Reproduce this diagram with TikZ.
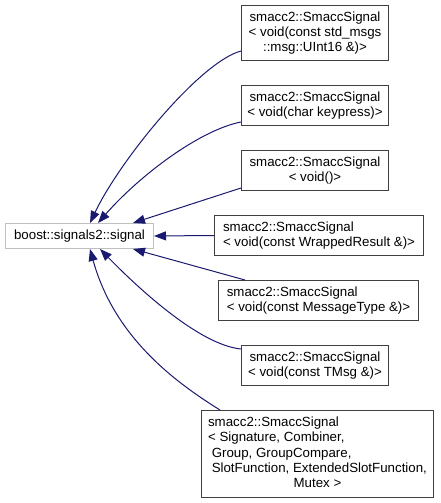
\documentclass[tikz,border=0pt]{standalone}
\usepackage{fontspec}
\setmainfont{Liberation Sans}
\usetikzlibrary{arrows.meta,calc}
\definecolor{edgeblue}{HTML}{191970}
\definecolor{rootgray}{HTML}{BFBFBF}
\definecolor{boxgray}{HTML}{404040}
\begin{document}
\begin{tikzpicture}[x=1pt,y=-1pt,
  classbox/.style={draw=boxgray, line width=1pt, fill=white, rectangle, inner sep=0pt,
    anchor=north west, font=\fontsize{13.3}{15.3}\selectfont},
  rootbox/.style={classbox, draw=rootgray},
  inherit/.style={draw=edgeblue, line width=1pt, -{Triangle[length=12pt,width=9pt]}}]
\useasboundingbox (0,0) rectangle (441,503);

\node[rootbox, minimum width=148pt, minimum height=25pt] (sig) at (5,223) {boost::signals2::signal};

\node[classbox, minimum width=147pt, minimum height=55pt, align=center] (b1) at (241,5)
  {smacc2::SmaccSignal\\< void(const std\_msgs\\::msg::UInt16 \&)>};
\node[classbox, minimum width=147pt, minimum height=40pt, align=center] (b2) at (241,85)
  {smacc2::SmaccSignal\\< void(char keypress)>};
\node[classbox, minimum width=147pt, minimum height=40pt, align=center] (b3) at (241,150)
  {smacc2::SmaccSignal\\< void()>};
\node[classbox, minimum width=209pt, minimum height=40pt, align=left] (b4) at (214,215)
  {smacc2::SmaccSignal\\< void(const WrappedResult \&)>};
\node[classbox, minimum width=200pt, minimum height=40pt, align=left] (b5) at (218,280)
  {smacc2::SmaccSignal\\< void(const MessageType \&)>};
\node[classbox, minimum width=147pt, minimum height=40pt, align=center] (b6) at (241,345)
  {smacc2::SmaccSignal\\< void(const TMsg \&)>};
\node[classbox, minimum width=232pt, minimum height=87pt] (b7) at (201,410)
  {\begin{tabular}{@{}l@{}}smacc2::SmaccSignal\\< Signature, Combiner,\\\ Group, GroupCompare,\\\ SlotFunction, ExtendedSlotFunction,\\\multicolumn{1}{@{}c@{}}{Mutex >}\end{tabular}};

\draw[inherit] ($(b1.north west)+(0,46)$) .. controls (200,62) and (120,160) .. ($(sig.north west)+(85,0)$);
\draw[inherit] ($(b2.north west)+(0,37)$) .. controls (200,130) and (140,175) .. ($(sig.north west)+(93,0)$);
\draw[inherit] ($(b3.north west)+(0,38)$) -- ($(sig.north west)+(128,0)$);
\draw[inherit] (b4.west) -- (sig.east);
\draw[inherit] ($(b5.north west)+(27,0)$) -- ($(sig.south west)+(128,0)$);
\draw[inherit] ($(b6.north west)+(0,4)$) .. controls (200,345) and (140,290) .. ($(sig.south west)+(95,0)$);
\draw[inherit] ($(b7.north west)+(19,0)$) .. controls (180,385) and (115,340) .. ($(sig.south west)+(85,0)$);
\end{tikzpicture}
\end{document}
